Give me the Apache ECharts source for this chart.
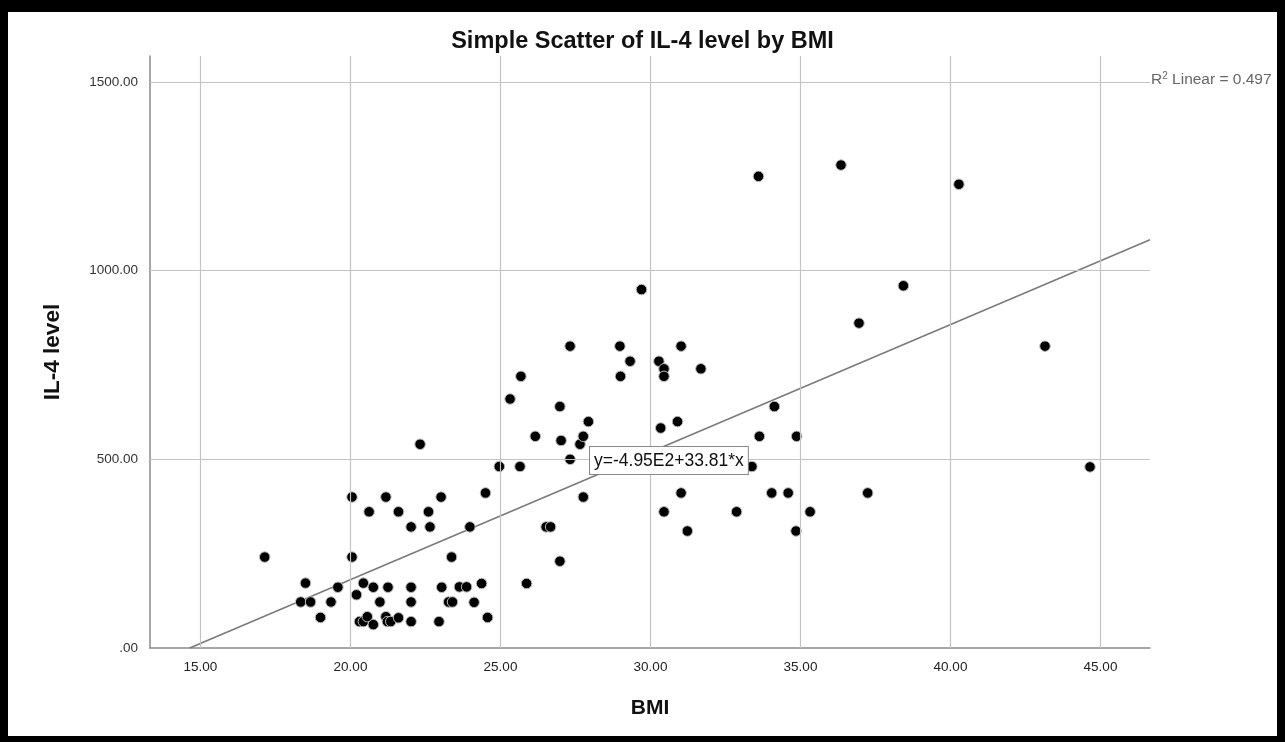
<!DOCTYPE html>
<html>
<head>
<meta charset="utf-8">
<script src="https://cdn.jsdelivr.net/npm/echarts@6/dist/echarts.min.js"></script>
<style>
html,body{margin:0;padding:0;background:#fff;}
#chart{width:1285px;height:742px;}
</style>
</head>
<body>
<div id="chart"></div>
<script>
// BMI values (x)
const bmi = [
  17.14, 18.50, 18.34, 18.67, 19.00, 19.35, 19.58, 20.05, 20.05, 20.20,
  20.43, 20.30, 20.43, 20.56, 20.62, 20.76, 20.76, 20.98, 21.18, 21.18,
  21.25, 21.23, 21.34, 21.60, 21.60, 22.02, 22.02, 22.02, 22.02, 22.32,
  22.60, 22.65, 22.95, 23.02, 23.04, 23.27, 23.40, 23.37, 23.63, 23.87,
  23.98, 24.12, 24.37, 24.50, 24.57, 24.96, 25.32, 25.65, 25.68, 25.87,
  26.16, 26.52, 26.67, 26.98, 26.98, 27.02, 27.32, 27.32, 27.65, 27.76,
  27.76, 27.93, 28.98, 29.00, 29.32, 29.70, 30.28, 30.34, 30.45, 30.45,
  30.45, 30.90, 31.02, 31.02, 31.23, 31.68, 32.87, 33.38, 33.60, 33.63,
  34.04, 34.13, 34.59, 34.87, 34.85, 35.32, 36.35, 36.95, 37.24, 38.43,
  40.28, 43.15, 44.65
];
// IL-4 level values (y)
const il4 = [
  241, 172, 122, 122, 81, 122, 161, 400, 241, 141,
  172, 70, 70, 83, 361, 161, 62, 122, 400, 83,
  161, 70, 70, 80, 361, 321, 161, 122, 70, 540,
  361, 321, 70, 400, 161, 122, 122, 241, 162, 162,
  321, 121, 171, 411, 81, 481, 660, 481, 720, 171,
  561, 321, 321, 230, 640, 550, 800, 500, 540, 561,
  400, 600, 800, 720, 760, 950, 760, 583, 740, 720,
  361, 600, 800, 411, 310, 740, 361, 481, 1250, 561,
  411, 640, 411, 561, 310, 361, 1280, 861, 411, 960,
  1229, 800, 480
];
// fit line end points
const fitX = [14.64, 46.65];
const fitY = [0, 1082];
// axis ticks
const xTicks = [15, 20, 25, 30, 35, 40, 45];
const yTicks = [0, 500, 1000, 1500];
const fitEquation = 'y=-4.95E2+33.81*x';
const r2Label = 'Linear = 0.497';

const points = bmi.map((v, i) => [v, il4[i]]);
const fitLine = fitX.map((v, i) => [v, fitY[i]]);

const chart = echarts.init(document.getElementById('chart'), null, {renderer: 'canvas'});
const gridColor = '#c4c4c4';
const axisColor = '#8a8a8a';
const font = '"Liberation Sans", Arial, sans-serif';

const option = {
  backgroundColor: '#ffffff',
  animation: false,
  title: {
    text: 'Simple Scatter of IL-4 level by BMI',
    left: 'center',
    top: 25,
    textStyle: {fontFamily: font, fontSize: 23.5, fontWeight: 'bold', color: '#111'}
  },
  grid: {left: 150, right: 135, top: 56, bottom: 94, containLabel: false},
  xAxis: {
    type: 'value',
    min: 13.317,
    max: 46.65,
    name: 'BMI',
    nameLocation: 'middle',
    nameGap: 50,
    nameTextStyle: {fontFamily: font, fontSize: 21, fontWeight: 'bold', color: '#111'},
    axisLine: {show: true, lineStyle: {color: axisColor, width: 1.5}},
    axisTick: {show: false},
    splitLine: {show: false},
    axisLabel: {
      customValues: xTicks,
      margin: 12,
      fontFamily: font, fontSize: 13.5, color: '#222',
      formatter: v => v.toFixed(2)
    }
  },
  yAxis: {
    type: 'value',
    min: 0,
    max: 1569,
    name: 'IL-4 level',
    nameLocation: 'middle',
    nameGap: 86,
    nameRotate: 90,
    nameTextStyle: {fontFamily: font, fontSize: 22.5, fontWeight: 'bold', color: '#111'},
    axisLine: {show: true, lineStyle: {color: axisColor, width: 1.5}},
    axisTick: {show: false},
    splitLine: {show: false},
    axisLabel: {
      customValues: yTicks,
      margin: 12,
      fontFamily: font, fontSize: 13.5, color: '#333',
      formatter: v => v === 0 ? '.00' : v.toFixed(2)
    }
  },
  series: [
    {
      type: 'scatter',
      name: 'grid',
      data: [],
      z: 1,
      silent: true,
      markLine: {
        silent: true,
        symbol: 'none',
        animation: false,
        label: {show: false},
        lineStyle: {color: gridColor, width: 1.2, type: 'solid'},
        emphasis: {disabled: true},
        data: xTicks.map(v => ({xAxis: v})).concat(yTicks.filter(v => v > 0).map(v => ({yAxis: v})))
      }
    },
    {
      type: 'line',
      name: 'fit',
      data: fitLine,
      z: 2,
      symbol: 'none',
      silent: true,
      lineStyle: {color: '#7a7a7a', width: 1.5}
    },
    {
      type: 'scatter',
      name: 'IL-4',
      data: points,
      z: 3,
      symbol: 'circle',
      symbolSize: 10.5,
      itemStyle: {color: '#000', borderColor: '#bbbbbb', borderWidth: 1, opacity: 1}
    }
  ],
  graphic: [
    {type: 'rect', shape: {x: 0, y: 0, width: 1285, height: 12}, style: {fill: '#000'}, z: 100},
    {type: 'rect', shape: {x: 0, y: 0, width: 8, height: 742}, style: {fill: '#000'}, z: 100},
    {type: 'rect', shape: {x: 1277, y: 0, width: 8, height: 742}, style: {fill: '#000'}, z: 100},
    {type: 'rect', shape: {x: 0, y: 736, width: 1285, height: 6}, style: {fill: '#000'}, z: 100},
    {
      type: 'text', left: 589, top: 446, z: 50,
      style: {
        text: fitEquation,
        fontFamily: font, fontSize: 17.5, fill: '#111',
        backgroundColor: '#fff', borderColor: '#888', borderWidth: 1,
        padding: [5, 4, 4, 4]
      }
    },
    {
      type: 'text', left: 1151, top: 71, z: 50,
      style: {
        text: '{a|R}{s|2}{a| ' + r2Label + '}',
        rich: {
          a: {fontFamily: font, fontSize: 15.5, fill: '#666', color: '#666'},
          s: {fontFamily: font, fontSize: 10, fill: '#666', color: '#666', verticalAlign: 'top', padding: [0, 0, 8, 0]}
        }
      }
    }
  ]
};
chart.setOption(option);
</script>
</body>
</html>
